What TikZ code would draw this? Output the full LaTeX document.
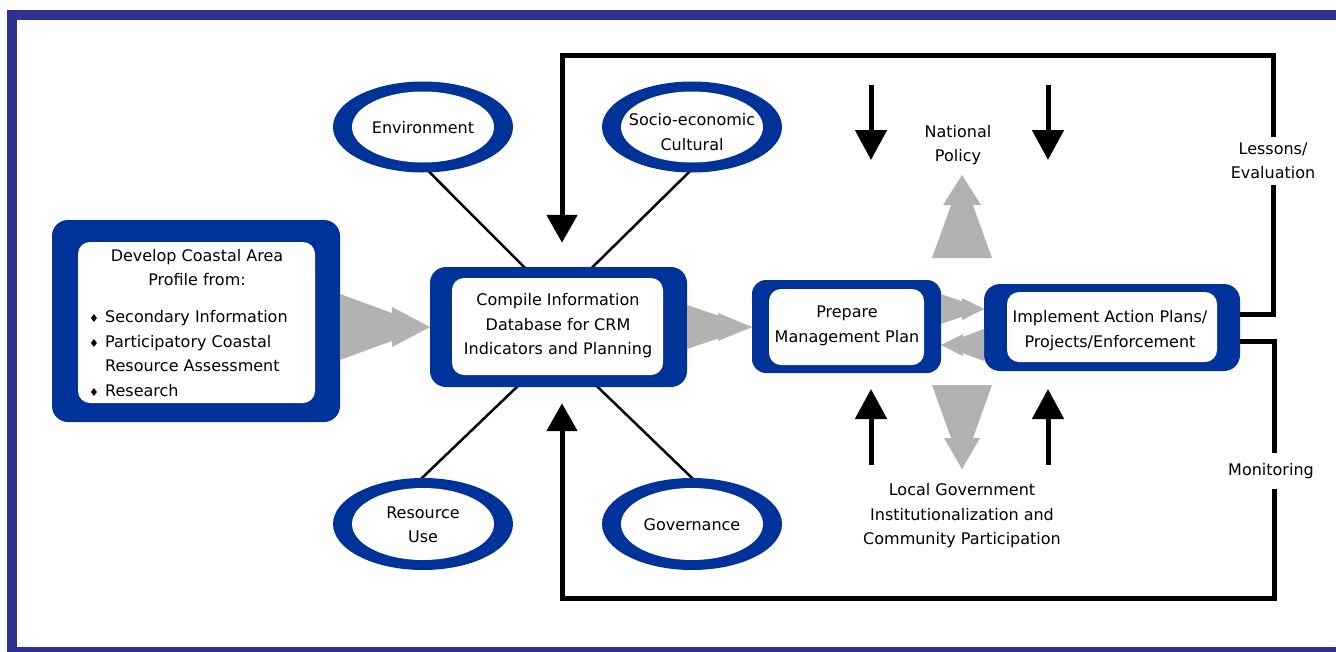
\documentclass[tikz,border=0pt]{standalone}
\usepackage{fontspec}
\setmainfont{DejaVu Sans}
\usetikzlibrary{shapes.geometric,arrows.meta,calc,backgrounds}
\definecolor{boxblue}{RGB}{0,51,153}
\definecolor{framecol}{RGB}{46,49,146}
\definecolor{arrgrey}{RGB}{178,178,178}
\newcommand\mybul{\makebox[19pt][l]{\hspace{3pt}\fontsize{11}{11}\selectfont ♦}}
\begin{document}
\begin{tikzpicture}[x=1pt,y=-1pt,
  txt/.style={font=\fontsize{16}{24.5}\selectfont, inner sep=0pt, align=center},
  bluebox/.style={draw=none, fill=boxblue, rounded corners=16pt, inner sep=0pt},
  whitebox/.style={fill=white, rounded corners=12pt, inner sep=0pt},
  blueell/.style={ellipse, fill=boxblue, inner sep=0pt, minimum width=180pt, minimum height=91pt},
  whiteell/.style={ellipse, fill=white, inner sep=0pt, minimum width=142pt, minimum height=71pt},
  spoke/.style={line width=2.5pt, black},
  fb/.style={line width=5pt, black, -{Triangle[width=30pt,length=28pt]}},
  side/.style={line width=5pt, black, -{Triangle[width=31pt,length=30pt]}},
  lbl/.style={txt, fill=white, inner xsep=3pt},
  grey/.style={fill=arrgrey}
]
\useasboundingbox (0,0) rectangle (1336,651);
\begin{scope}[on background layer]
  \fill[white] (0,0) rectangle (1336,651);
  \draw[framecol, line width=10pt] (11.5,15) rectangle (1360,652);
\end{scope}

% boxes
\node[bluebox, minimum width=288pt, minimum height=202pt] (dev) at (196,321) {};
\node[whitebox, minimum width=237pt, minimum height=161pt] (devin) at (196.5,322.5) {};
\node[txt] (devtitle) at (197,267.5) {Develop Coastal Area\\Profile from:};
\node[txt, align=left, anchor=west] (devlist) at (86,353.5)
  {\mybul Secondary Information\\\mybul Participatory Coastal\\\hspace{19pt}Resource Assessment\\\mybul Research};

\node[bluebox, minimum width=257pt, minimum height=120pt] (comp) at (558.5,327) {};
\node[whitebox, minimum width=211pt, minimum height=97pt] (compin) at (557.5,326.5) {};
\node[txt] (comptxt) at (558,326) {Compile Information\\Database for CRM\\Indicators and Planning};

\node[bluebox, rounded corners=14pt, minimum width=189pt, minimum height=93pt] (prep) at (846.5,326.5) {};
\node[whitebox, minimum width=155pt, minimum height=76pt] (prepin) at (846.5,327) {};
\node[txt] (preptxt) at (847,326) {Prepare\\Management Plan};

\node[bluebox, minimum width=256pt, minimum height=87pt] (imp) at (1112,327.5) {};
\node[whitebox, minimum width=210pt, minimum height=70pt] (impin) at (1112,327) {};
\node[txt] (imptxt) at (1110,330.5) {Implement Action Plans/\\Projects/Enforcement};

% ellipses
\node[blueell] (env) at (423,127) {};
\node[whiteell] (envin) at (423,127) {};
\node[txt] (envtxt) at (423,128) {Environment};
\node[blueell] (socio) at (692,127) {};
\node[whiteell] (socioin) at (692,127) {};
\node[txt] (sociotxt) at (692,132) {Socio-economic\\Cultural};
\node[blueell, minimum height=92pt] (res) at (423,524) {};
\node[whiteell, minimum height=72pt] (resin) at (423,524) {};
\node[txt] (restxt) at (423,525) {Resource\\Use};
\node[blueell, minimum height=92pt] (gov) at (692,524) {};
\node[whiteell, minimum height=72pt] (govin) at (692,524) {};
\node[txt] (govtxt) at (692,525) {Governance};

% spokes
\begin{scope}[on background layer]
  \draw[spoke] ($(env.south)+(2,-5)$) -- ($(comp.north west)+(98,4)$);
  \draw[spoke] ($(socio.south)+(1,-4.5)$) -- ($(comp.north west)+(159,4)$);
  \draw[spoke] ($(res.north)+(-5,4)$) -- ($(comp.south west)+(91,-4)$);
  \draw[spoke] ($(gov.north)+(4,4)$) -- ($(comp.south west)+(164,-4)$);
\end{scope}

% grey double arrows
\fill[grey] (340,294) -- (430,327) -- (340,360) -- cycle;
\fill[grey] (392,307) -- (430,327) -- (392,347) -- cycle;
\fill[grey] (687,305) -- (752,327) -- (687,349) -- cycle;
\fill[grey] (718,313) -- (752,327) -- (718,341) -- cycle;
\fill[grey] (941,294) -- (984,309) -- (941,324) -- cycle;
\fill[grey] (962,298) -- (984,309) -- (962,320) -- cycle;
\fill[grey] (984,329) -- (941,345) -- (984,361) -- cycle;
\fill[grey] (963,334) -- (941,345) -- (963,356) -- cycle;
\fill[grey] (932,258) -- (962,175) -- (992,258) -- cycle;
\fill[grey] (943,205) -- (962,175) -- (981,205) -- cycle;
\fill[grey] (932,385) -- (962,469) -- (992,385) -- cycle;
\fill[grey] (944,438) -- (962,469) -- (980,438) -- cycle;

% black side arrows
\coordinate (n1s) at (871,85);  \coordinate (n1e) at (871,160);
\coordinate (n2s) at (1048,85); \coordinate (n2e) at (1048,160);
\coordinate (l1s) at (871,465); \coordinate (l1e) at (871,389);
\coordinate (l2s) at (1048,465);\coordinate (l2e) at (1048,389);
\draw[side] (n1s) -- (n1e);
\draw[side] (n2s) -- (n2e);
\draw[side] (l1s) -- (l1e);
\draw[side] (l2s) -- (l2e);

\node[txt] (natl) at (958,145) {National\\Policy};
\node[txt] (local) at (962,516) {Local Government\\Institutionalization and\\Community Participation};

% feedback loops
\coordinate (tr) at (1273.5,55);
\coordinate (br) at (1274,598);
\draw[fb] ($(imp.east)+(0,-13)$) -| (tr) -| ($(comp.north)+(3.5,-24)$);
\draw[fb] ($(imp.east)+(0,14)$) -| (br) -| ($(comp.south)+(3.5,16)$);
\node[lbl, inner ysep=6pt] (lessons) at (1273,161) {Lessons/\\Evaluation};
\node[lbl, inner ysep=10pt] (monit) at (1271,471) {Monitoring};
\end{tikzpicture}
\end{document}
